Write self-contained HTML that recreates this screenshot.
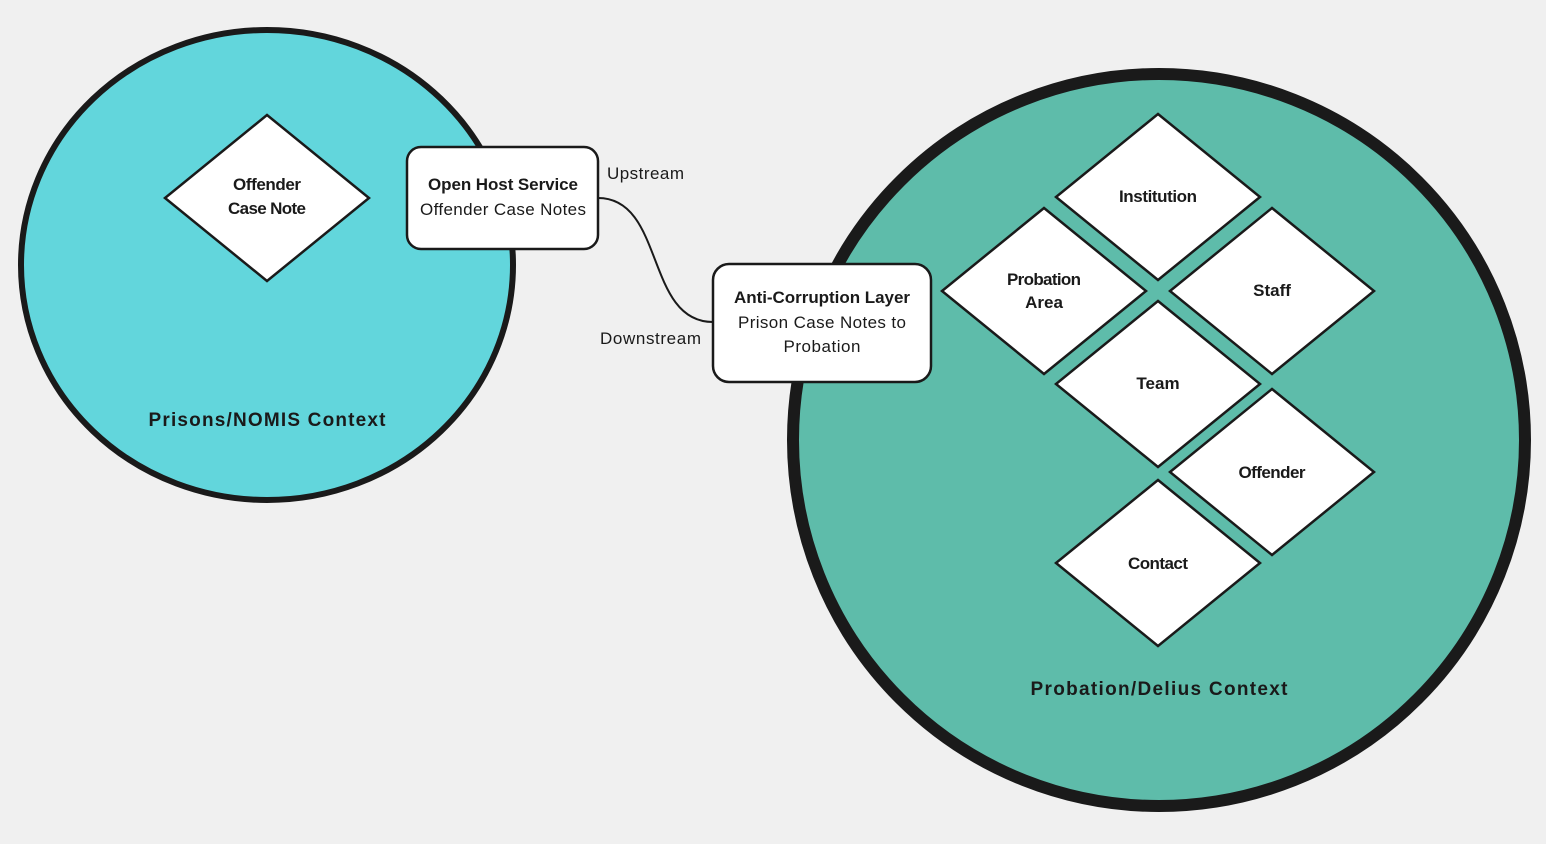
<!DOCTYPE html>
<html><head><meta charset="utf-8"><style>
html,body{margin:0;padding:0;background:#f0f0f0;}
svg{display:block;font-family:"Liberation Sans",sans-serif;}
.b{font-weight:bold;font-size:17px;fill:#1a1a1a;}
.n{font-size:17px;fill:#1a1a1a;}
</style></head><body>
<svg width="1546" height="844" viewBox="0 0 1546 844">
<rect width="1546" height="844" fill="#f0f0f0"/>
<ellipse cx="267" cy="265" rx="246" ry="235" fill="#62d6dc" stroke="#1a1a1a" stroke-width="6"/>
<ellipse cx="1159" cy="440" rx="366" ry="366" fill="#5ebcaa" stroke="#1a1a1a" stroke-width="12"/>
<text x="267" y="426" text-anchor="middle" class="b" style="font-size:19px" textLength="237">Prisons/NOMIS Context</text>
<text x="1159" y="695" text-anchor="middle" class="b" style="font-size:19px" textLength="257">Probation/Delius Context</text>
<g fill="#fff" stroke="#1a1a1a" stroke-width="2.5">
<polygon points="267,115 369,198 267,281 165,198"/>
<polygon points="1158,114 1260,197 1158,280 1056,197"/>
<polygon points="1044,208 1146,291 1044,374 942,291"/>
<polygon points="1272,208 1374,291 1272,374 1170,291"/>
<polygon points="1158,301 1260,384 1158,467 1056,384"/>
<polygon points="1272,389 1374,472 1272,555 1170,472"/>
<polygon points="1158,480 1260,563 1158,646 1056,563"/>
</g>
<g text-anchor="middle" class="b">
<text x="267" y="190" class="b" textLength="68">Offender</text>
<text x="267" y="214" class="b" textLength="78">Case Note</text>
<text x="1158" y="202" class="b" textLength="78">Institution</text>
<text x="1044" y="285" class="b" textLength="74">Probation</text>
<text x="1044" y="308" class="b">Area</text>
<text x="1272" y="296" class="b">Staff</text>
<text x="1158" y="389" class="b">Team</text>
<text x="1272" y="478" class="b" textLength="67">Offender</text>
<text x="1158" y="569" class="b" textLength="60">Contact</text>
</g>
<path d="M598,198 C665,198 645,322 713,322" fill="none" stroke="#1a1a1a" stroke-width="2"/>
<rect x="407" y="147" width="191" height="102" rx="14" fill="#fff" stroke="#1a1a1a" stroke-width="2.5"/>
<rect x="713" y="264" width="218" height="118" rx="16" fill="#fff" stroke="#1a1a1a" stroke-width="2.5"/>
<g text-anchor="middle">
<text x="503" y="190" class="b" textLength="150">Open Host Service</text>
<text x="503" y="215" class="n" textLength="166">Offender Case Notes</text>
<text x="822" y="303" class="b" textLength="176">Anti-Corruption Layer</text>
<text x="822" y="328" class="n" textLength="168">Prison Case Notes to</text>
<text x="822" y="352" class="n" textLength="77">Probation</text>
</g>
<text x="607" y="179" class="n" textLength="77">Upstream</text>
<text x="600" y="344" class="n" textLength="101">Downstream</text>
</svg>
</body></html>
